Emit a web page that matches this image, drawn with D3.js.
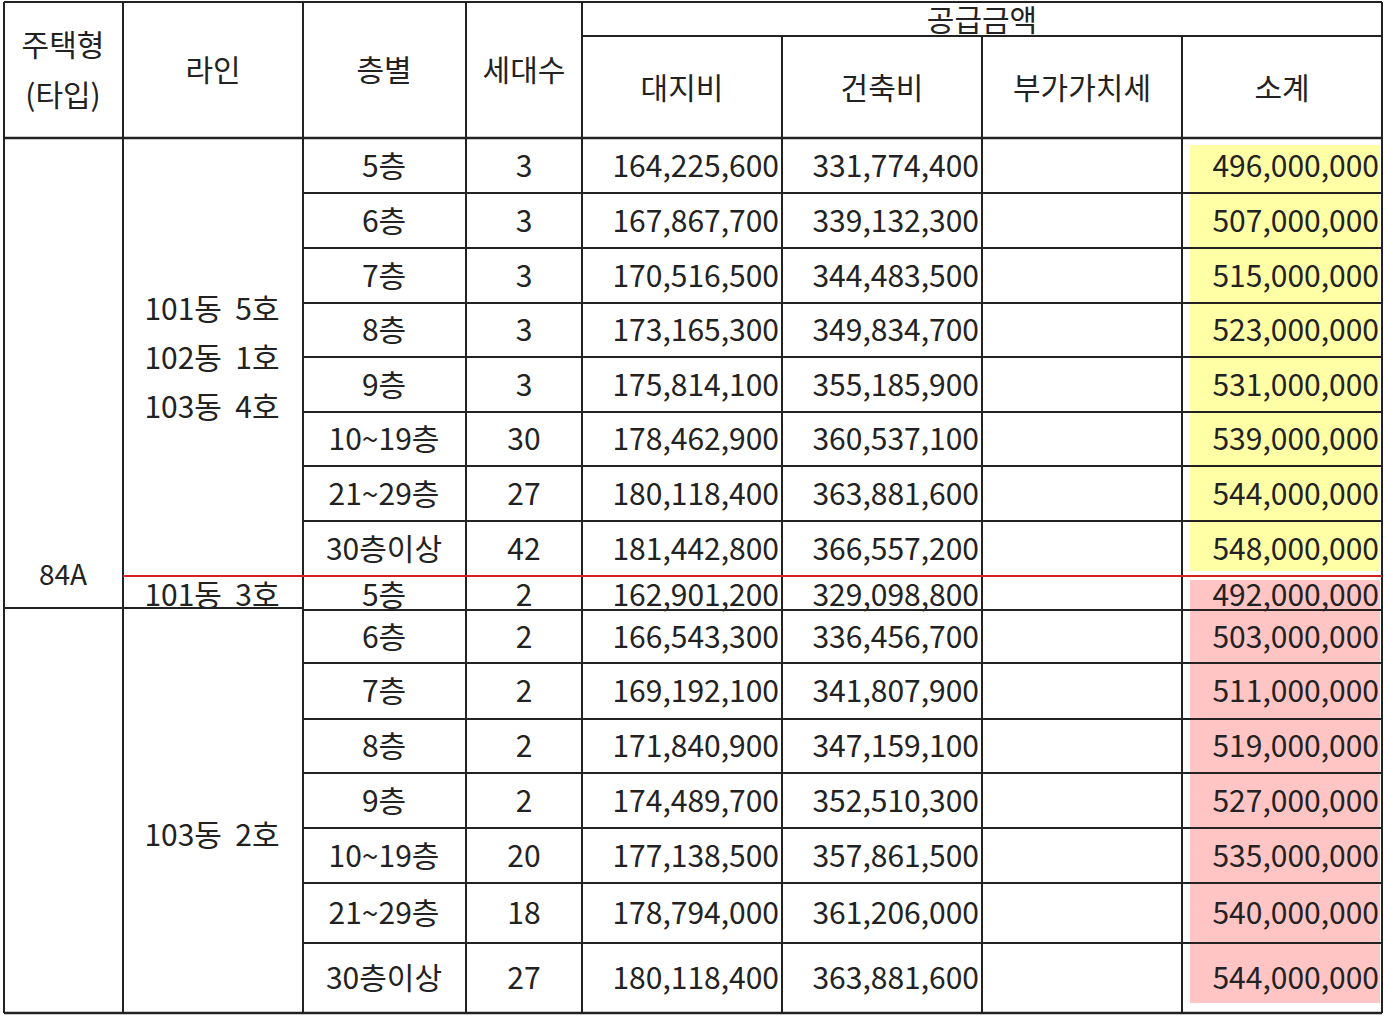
<!DOCTYPE html>
<html><head><meta charset="utf-8">
<script src="https://cdn.jsdelivr.net/npm/d3@7"></script>
<style>body{margin:0;background:#fff}svg{display:block}text{white-space:pre}</style>
</head><body>
<script>
const floors = ["5층","6층","7층","8층","9층","10~19층","21~29층","30층이상","5층","6층","7층","8층","9층","10~19층","21~29층","30층이상"];
const households = [3,3,3,3,3,30,27,42,2,2,2,2,2,20,18,27];
const landCost = [164225600,167867700,170516500,173165300,175814100,178462900,180118400,181442800,162901200,166543300,169192100,171840900,174489700,177138500,178794000,180118400];
const buildCost = [331774400,339132300,344483500,349834700,355185900,360537100,363881600,366557200,329098800,336456700,341807900,347159100,352510300,357861500,361206000,363881600];
const subtotal = [496000000,507000000,515000000,523000000,531000000,539000000,544000000,548000000,492000000,503000000,511000000,519000000,527000000,535000000,540000000,544000000];
const headers = ["주택형","라인","층별","세대수","대지비","건축비","부가가치세","소계"];

const W=1384,H=1016;
const svg=d3.select("body").append("svg").attr("width",W).attr("height",H);
const font="'Noto Sans CJK KR','Noto Sans',sans-serif";
const colX=[4,123,303,466,582,782,982,1182,1382];
const rowY=[138,193,248,303,357,412,466,521,576,610,663,719,773,828,883,943,1013];
const fmt=d3.format(",");

subtotal.forEach((v,i)=>{
  const y0=i<8?rowY[i]+(i==0?7:0):rowY[i]+(i==8?4:0);
  const y1=i==7?rowY[8]-5:i==15?1003:rowY[i+1];
  svg.append("rect").attr("x",1190).attr("y",y0).attr("width",190).attr("height",y1-y0)
   .attr("fill",i<8?"#ffffa6":"#ffc4c4");
});

const line=(x1,y1,x2,y2,c="#222",w=2)=>svg.append("line").attr("x1",x1).attr("y1",y1).attr("x2",x2).attr("y2",y2).attr("stroke",c).attr("stroke-width",w);
line(4,2,1382,2); line(582,36,1382,36); line(4,138,1382,138,"#222",2.5);
line(4,1013,1382,1013,"#222",2.5);
colX.forEach((x,i)=>{
  if(i>=5&&i<8) line(x,36,x,1013); else line(x,2,x,1013);
});
rowY.slice(1,-1).forEach(y=>{
  if(y===576) return;
  if(y===610){ line(4,608,303,608); line(303,610,1382,610); }
  else line(303,y,1382,y);
});
line(123,576,1382,576,"#d62020",2);

const txt=(t,x,y,size=30,anchor="middle")=>svg.append("text").attr("x",x).attr("y",y).attr("text-anchor",anchor)
  .attr("dominant-baseline","central").attr("font-family",font).attr("font-size",size).attr("fill","#222").text(t);

txt("공급금액",982,18,30);
svg.append("rect").attr("x",583).attr("y",0).attr("width",798).attr("height",3).attr("fill","#fff");
line(582,2,1382,2);
txt("주택형",63,43); txt("(타입)",63,93);
txt(headers[1],213,68); txt(headers[2],384,68); txt(headers[3],524,68);
headers.slice(4).forEach((h,i)=>txt(h,(colX[4+i]+colX[5+i])/2,86));

txt("84A",63,573,28);
["101동  5호","102동  1호","103동  4호"].forEach((t,i)=>txt(t,212,307+i*49,30));
txt("101동  3호",212,593,30);
txt("103동  2호",212,833,30);

floors.forEach((f,i)=>{
  const cy=i===8?593:(rowY[i]+rowY[i+1])/2-2;
  txt(f,384,cy,30);
  txt(households[i],524,cy,30);
  txt(fmt(landCost[i]),779,cy,30,"end");
  txt(fmt(buildCost[i]),979,cy,30,"end");
  txt(fmt(subtotal[i]),1379,cy,30,"end");
});
</script>
</body></html>
